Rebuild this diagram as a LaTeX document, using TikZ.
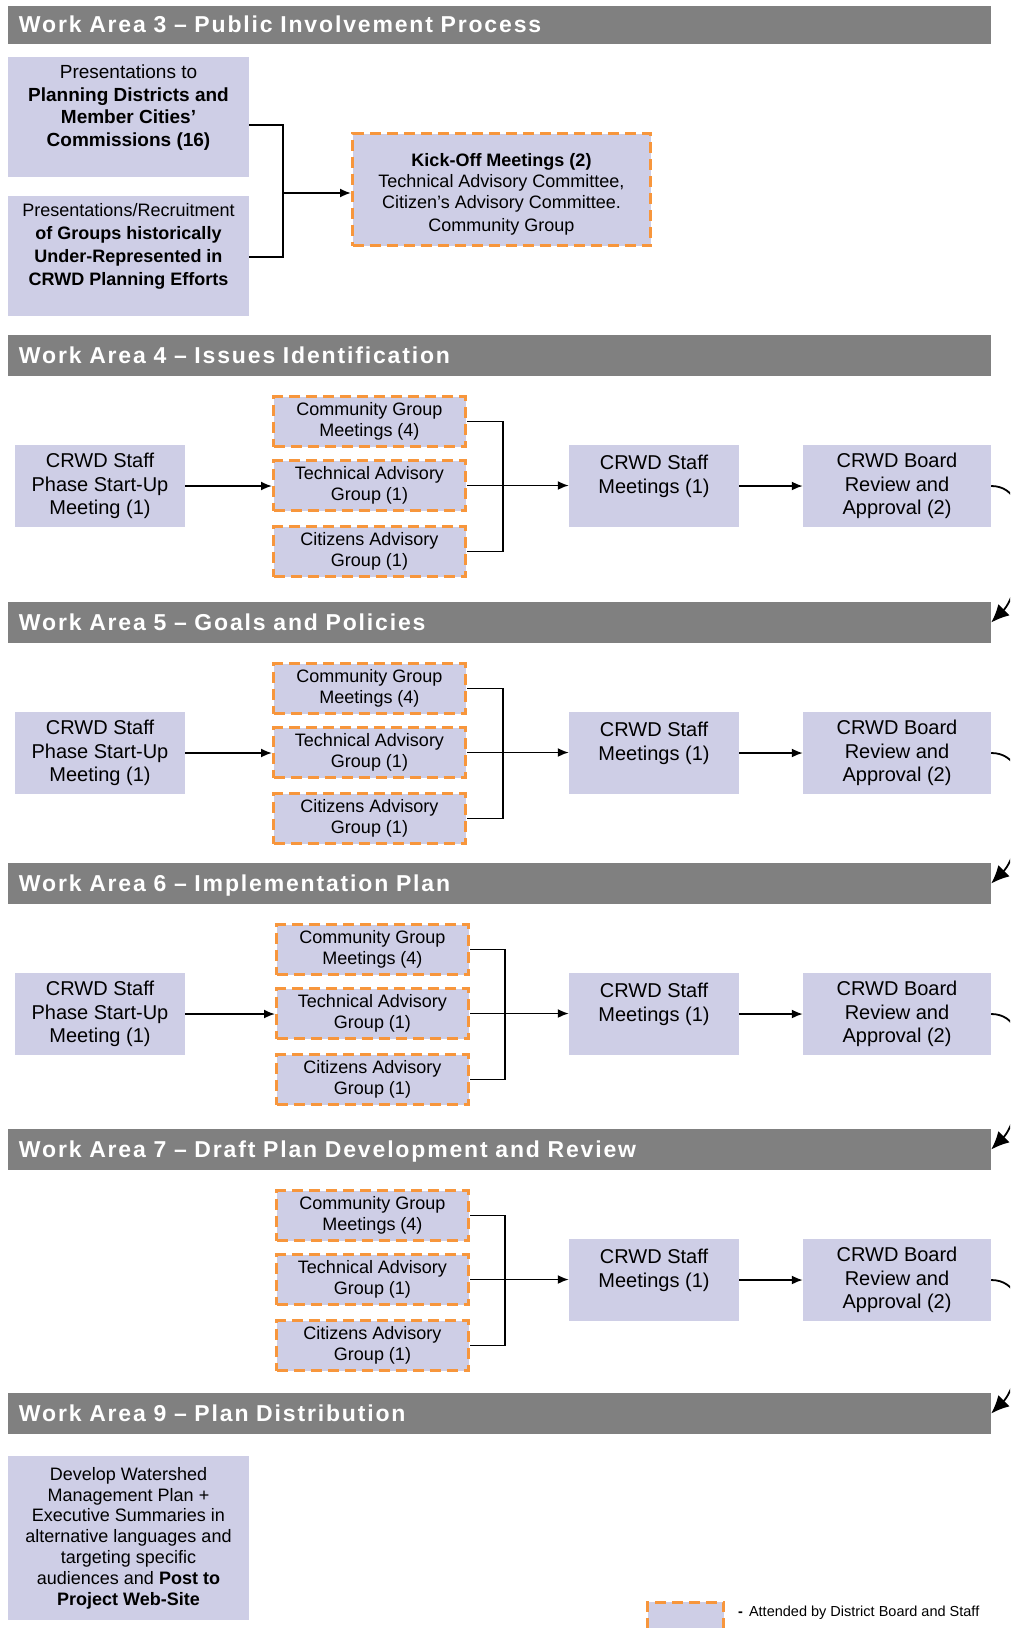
\documentclass[tikz,border=0pt]{standalone}
\usepackage{fontspec}
\setmainfont{Liberation Sans}
\newfontfamily\hdrfont{Liberation Sans}[LetterSpace=8]
\usetikzlibrary{arrows.meta,calc}
\definecolor{boxfill}{RGB}{206,206,230}
\definecolor{hdrgray}{RGB}{128,128,128}
\definecolor{dashorange}{RGB}{247,150,60}
\tikzset{
  hdr/.style={fill=hdrgray, draw=none, minimum width=983pt, minimum height=41pt,
    text width=961pt, inner xsep=11pt, inner ysep=0pt, align=left, text=white,
    text height=16.5pt, text depth=0pt, font=\hdrfont\bfseries\fontsize{23}{26}\selectfont},
  pbox/.style={fill=boxfill, draw=none, align=center, inner sep=0pt, text=black},
  bigbox/.style={pbox, minimum width=170pt, minimum height=82pt, font=\fontsize{20}{23.4}\selectfont},
  boardbox/.style={bigbox, minimum width=188pt},
  dbox/.style={pbox, draw=dashorange, line width=3pt, dash pattern=on 11pt off 6pt},
  grpbox/.style={dbox, minimum width=192pt, minimum height=50pt, font=\fontsize{18}{20.8}\selectfont},
  conn/.style={draw=black, line width=1.8pt},
  arr/.style={conn, -{Latex[length=11pt,width=9pt]}},
  backarr/.style={conn, -{Latex[length=18pt,width=16pt]}},
}
\begin{document}
\begin{tikzpicture}[x=1pt,y=-1pt]
\useasboundingbox (0,0) rectangle (1010,1628);
\clip (0,0) rectangle (1010,1628);

% ---------- Work Area 3 ----------
\node[hdr, minimum height=38pt] (h3) at (499.5,24.5) {Work Area 3 – Public Involvement Process};
\node[pbox, minimum width=241pt, minimum height=120pt, font=\fontsize{19}{22.5}\selectfont] (p1) at (128.5,117)
  {Presentations to\\\textbf{Planning Districts and}\\\textbf{Member Cities’}\\\textbf{Commissions (16)}\\\mbox{}};
\node[pbox, minimum width=241pt, minimum height=120pt, font=\fontsize{18}{22.8}\selectfont] (p2) at (128.5,256)
  {Presentations/Recruitment\\\textbf{of Groups historically}\\\textbf{Under-Represented in}\\\textbf{CRWD Planning Efforts}\\\mbox{}};
\node[dbox, minimum width=298pt, minimum height=112pt, font=\fontsize{18}{21}\selectfont] (ko) at (501.5,189.5)
  {\rule{0pt}{22pt}\textbf{Kick-Off Meetings (2)}\\Technical Advisory Committee,\\Citizen’s Advisory Committee.\\[2pt]Community Group};
\coordinate (j3) at (283,193);
\draw[conn] ([yshift=-8pt]p1.east) -| (j3) |- ([yshift=-1pt]p2.east);
\draw[arr] (j3) -- (j3 -| ko.west);

% ---------- Work Area 4 ----------
\node[hdr] (h4) at (499.5,355.5) {Work Area 4 – Issues Identification};
\node[bigbox] (s4) at (100,486) {CRWD Staff\\Phase Start-Up\\Meeting (1)};
\node[grpbox] (c4) at (369.5,421.5) {Community Group\\Meetings (4)};
\node[grpbox] (t4) at (369.5,485.5) {Technical Advisory\\Group (1)};
\node[grpbox] (z4) at (369.5,551.5) {Citizens Advisory\\Group (1)};
\node[bigbox] (m4) at (654,486) {CRWD Staff\\Meetings (1)\\\mbox{}};
\node[boardbox] (b4) at (897,486) {CRWD Board\\Review and\\Approval (2)};
\coordinate (j4) at (503,485.5);
\draw[arr] (s4.east) -- (s4.east -| t4.west);
\draw[conn] (c4.east) -| (j4) |- (z4.east);
\draw[arr] (t4.east) -- (t4.east -| m4.west);
\draw[arr] (m4.east) -- (m4.east -| b4.west);

% ---------- Work Area 5 ----------
\node[hdr] (h5) at (499.5,622.5) {Work Area 5 – Goals and Policies};
\node[bigbox] (s5) at (100,753) {CRWD Staff\\Phase Start-Up\\Meeting (1)};
\node[grpbox] (c5) at (369.5,688.5) {Community Group\\Meetings (4)};
\node[grpbox] (t5) at (369.5,752.5) {Technical Advisory\\Group (1)};
\node[grpbox] (z5) at (369.5,818.5) {Citizens Advisory\\Group (1)};
\node[bigbox] (m5) at (654,753) {CRWD Staff\\Meetings (1)\\\mbox{}};
\node[boardbox] (b5) at (897,753) {CRWD Board\\Review and\\Approval (2)};
\coordinate (j5) at (503,752.5);
\draw[arr] (s5.east) -- (s5.east -| t5.west);
\draw[conn] (c5.east) -| (j5) |- (z5.east);
\draw[arr] (t5.east) -- (t5.east -| m5.west);
\draw[arr] (m5.east) -- (m5.east -| b5.west);

% ---------- Work Area 6 ----------
\node[hdr] (h6) at (499.5,883.5) {Work Area 6 – Implementation Plan};
\node[bigbox] (s6) at (100,1014) {CRWD Staff\\Phase Start-Up\\Meeting (1)};
\node[grpbox] (c6) at (372.5,949.5) {Community Group\\Meetings (4)};
\node[grpbox] (t6) at (372.5,1013.5) {Technical Advisory\\Group (1)};
\node[grpbox] (z6) at (372.5,1079.5) {Citizens Advisory\\Group (1)};
\node[bigbox] (m6) at (654,1014) {CRWD Staff\\Meetings (1)\\\mbox{}};
\node[boardbox] (b6) at (897,1014) {CRWD Board\\Review and\\Approval (2)};
\coordinate (j6) at (505,1013.5);
\draw[arr] (s6.east) -- (s6.east -| t6.west);
\draw[conn] (c6.east) -| (j6) |- (z6.east);
\draw[arr] (t6.east) -- (t6.east -| m6.west);
\draw[arr] (m6.east) -- (m6.east -| b6.west);

% ---------- Work Area 7 ----------
\node[hdr] (h7) at (499.5,1149.5) {Work Area 7 – Draft Plan Development and Review};
\node[grpbox] (c7) at (372.5,1215.5) {Community Group\\Meetings (4)};
\node[grpbox] (t7) at (372.5,1279.5) {Technical Advisory\\Group (1)};
\node[grpbox] (z7) at (372.5,1345.5) {Citizens Advisory\\Group (1)};
\node[bigbox] (m7) at (654,1280) {CRWD Staff\\Meetings (1)\\\mbox{}};
\node[boardbox] (b7) at (897,1280) {CRWD Board\\Review and\\Approval (2)};
\coordinate (j7) at (505,1279.5);
\draw[conn] (c7.east) -| (j7) |- (z7.east);
\draw[arr] (t7.east) -- (t7.east -| m7.west);
\draw[arr] (m7.east) -- (m7.east -| b7.west);

% ---------- Work Area 9 ----------
\node[hdr] (h9) at (499.5,1413.5) {Work Area 9 – Plan Distribution};
\node[pbox, minimum width=241pt, minimum height=164pt, font=\fontsize{18}{20.8}\selectfont] (dev) at (128.5,1538)
  {Develop Watershed\\Management Plan +\\Executive Summaries in\\alternative languages and\\targeting specific\\audiences and \textbf{Post to}\\\textbf{Project Web-Site}};

% ---------- loop-back arrows ----------
\draw[backarr] (b4.east) .. controls +(50,0) and +(30,-30) .. (h5.east);
\draw[backarr] (b5.east) .. controls +(50,0) and +(30,-30) .. (h6.east);
\draw[backarr] (b6.east) .. controls +(50,0) and +(30,-30) .. (h7.east);
\draw[backarr] (b7.east) .. controls +(50,0) and +(30,-30) .. (h9.east);

% ---------- legend ----------
\node[dbox, minimum width=76pt, minimum height=36pt] (leg) at (685.5,1620) {};
\node[anchor=west, inner sep=0pt, font=\fontsize{14.5}{17}\selectfont] (legtxt) at (738,1613)
  {\textbf{-}\hspace{6pt}Attended by District Board and Staff};
\end{tikzpicture}
\end{document}
